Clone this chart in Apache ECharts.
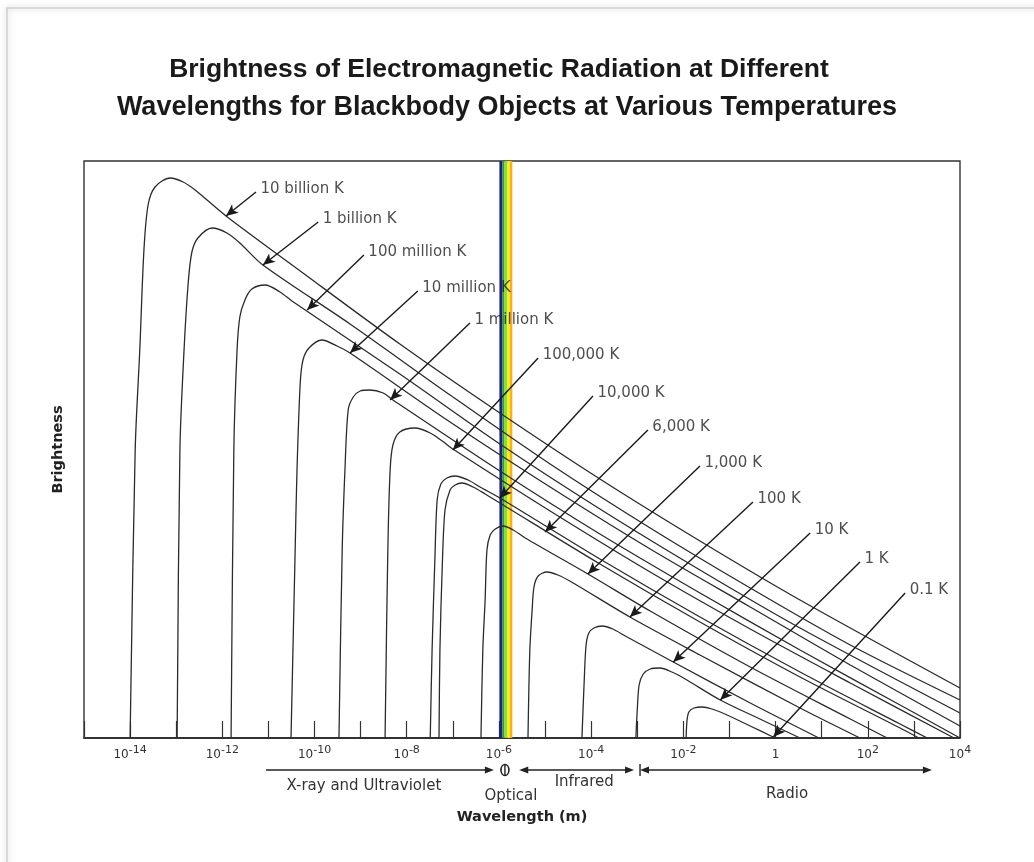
<!DOCTYPE html>
<html>
<head>
<meta charset="utf-8">
<script src="https://cdn.jsdelivr.net/npm/echarts@6/dist/echarts.min.js"></script>
<style>html,body{margin:0;padding:0;background:#fff;}#c{width:1034px;height:862px;}</style>
</head>
<body>
<div id="c"></div>
<script>
// x values: log10(wavelength in m); y values: relative brightness (arbitrary units)
const curveNames = ['10 billion K','1 billion K','100 million K','10 million K','1 million K','100,000 K','10,000 K','6,000 K','1,000 K','100 K','10 K','1 K','0.1 K'];

const c10billion = [[-14.00,0],[-13.89,28.8],[-13.79,38.8],[-13.70,48.8],[-13.61,53.3],[-13.46,55.1],[-13.13,56.0],[-12.85,55.6],[-12.59,54.8],[-11.92,52.2],[-10.31,46.7],[-8.15,39.4],[-5.98,32.5],[-3.81,25.9],[-1.64,19.7],[0.53,13.8],[4.00,5.0]];
const c1billion = [[-12.98,0],[-12.92,28.8],[-12.83,38.8],[-12.74,45.5],[-12.66,48.6],[-12.53,50.0],[-12.22,51.0],[-11.90,50.5],[-11.62,49.5],[-11.12,47.3],[-9.23,41.4],[-7.06,34.3],[-4.89,27.4],[-2.72,21.0],[-0.55,15.0],[1.62,9.3],[4.00,3.8]];
const c100million = [[-11.81,0],[-11.75,28.8],[-11.68,38.8],[-11.62,42.1],[-11.51,43.8],[-11.36,44.9],[-11.07,45.3],[-10.75,44.6],[-10.49,43.7],[-8.15,36.4],[-5.98,29.4],[-3.81,22.9],[-1.64,16.8],[0.53,11.0],[4.00,2.5]];
const c10million = [[-10.51,0],[-10.42,18.8],[-10.38,26.8],[-10.31,35.5],[-10.25,37.8],[-10.12,39.0],[-9.84,39.8],[-9.51,39.2],[-9.23,38.5],[-7.06,31.6],[-4.89,25.1],[-2.72,18.9],[-0.55,13.1],[1.62,7.3],[4.00,1.2]];
const c1million = [[-9.47,0],[-9.40,18.8],[-9.34,26.8],[-9.27,32.8],[-9.16,34.1],[-9.01,34.7],[-8.80,34.8],[-8.51,34.5],[-8.30,33.8],[-5.98,26.7],[-3.81,20.4],[-1.64,14.5],[0.53,8.8],[2.70,3.3],[4.00,0]];
const c100000 = [[-8.47,0],[-8.41,18.8],[-8.36,26.8],[-8.30,29.3],[-8.15,30.6],[-7.82,31.0],[-7.49,30.5],[-7.23,29.7],[-7.00,28.9],[-4.89,22.7],[-2.72,16.6],[-0.55,10.9],[1.62,5.5],[3.87,0]];
const c10000 = [[-7.49,0],[-7.45,8.8],[-7.39,17.8],[-7.34,23.8],[-7.26,25.4],[-7.13,26.0],[-6.95,26.2],[-6.67,25.8],[-6.41,25.1],[-5.98,24.0],[-3.81,17.9],[-1.64,12.1],[0.53,6.6],[2.70,1.4],[3.29,0]];
const c6000 = [[-7.30,0],[-7.28,8.8],[-7.23,17.1],[-7.17,22.8],[-7.06,24.8],[-6.95,25.3],[-6.80,25.5],[-6.56,25.1],[-6.30,24.4],[-5.98,23.5],[-3.81,17.4],[-1.64,11.6],[0.53,6.1],[2.70,1.0],[3.11,0]];
const c1000 = [[-6.39,0],[-6.35,8.8],[-6.30,13.8],[-6.26,18.8],[-6.19,20.3],[-6.08,20.9],[-5.91,21.2],[-5.69,20.8],[-5.43,20.0],[-4.07,16.4],[-2.72,12.7],[-0.55,7.1],[1.62,1.9],[2.42,0]];
const c100 = [[-5.37,0],[-5.33,8.8],[-5.28,12.8],[-5.24,15.1],[-5.15,16.2],[-4.96,16.6],[-4.72,16.3],[-4.39,15.5],[-3.16,12.1],[-1.64,8.3],[0.53,3.0],[1.83,0]];
const c10 = [[-4.20,0],[-4.15,5.8],[-4.11,9.3],[-4.05,10.5],[-3.94,11.0],[-3.76,11.2],[-3.53,10.9],[-3.26,10.2],[-2.22,7.6],[-0.55,3.5],[0.94,0]];
const c1 = [[-3.03,0],[-3.00,2.8],[-2.96,5.3],[-2.87,6.4],[-2.72,6.9],[-2.51,7.0],[-2.25,6.6],[-1.96,5.9],[-1.20,3.8],[-0.34,1.9],[0.53,0]];
const c01 = [[-1.94,0],[-1.92,1.8],[-1.88,2.6],[-1.77,3.0],[-1.59,3.1],[-1.38,2.9],[-1.10,2.4],[-0.55,1.2],[-0.01,0]];

// label arrows: start (near the text) and tip (on the curve)
const arrowStart = [[-11.27,54.6],[-9.92,51.6],[-8.93,48.3],[-7.76,44.7],[-6.63,41.5],[-5.15,38.0],[-3.96,34.2],[-2.77,30.8],[-1.64,27.2],[-0.49,23.6],[0.75,20.5],[1.83,17.6],[2.81,14.5]];
const arrowTip = [[-11.92,52.2],[-11.12,47.3],[-10.16,42.8],[-9.23,38.5],[-8.36,33.8],[-7.00,28.8],[-5.98,24.0],[-5.00,20.6],[-4.07,16.4],[-3.16,12.1],[-2.22,7.6],[-1.20,3.8],[-0.05,0.1]];

// tick labels: exponents shown
const tickExponents = [-14,-12,-10,-8,-6,-4,-2,0,2,4];

// visible band (colour stripes)
const opticalStripes = [[-5.99,-5.93],[-5.93,-5.88],[-5.88,-5.82],[-5.82,-5.76],[-5.76,-5.71]];

// spectral regions below the axis
const regionNames = ['X-ray and Ultraviolet','Optical','Infrared','Radio'];
const regionFrom = [-11.05, -5.87, -5.56, -2.94];
const regionTo = [-6.11, -5.87, -3.07, 3.39];
const regionLabelAt = [-8.93, -5.74, -4.15, 0.25];

const curves = [c10billion,c1billion,c100million,c10million,c1million,c100000,c10000,c6000,c1000,c100,c10,c1,c01];
const stripeColors = ['#1e1e8c','#2e9e3a','#8fdc2a','#f2ee1a','#ffab1f'];

const chart = echarts.init(document.getElementById('c'));
const FONT = 'DejaVu Sans';

const series = [];
series.push({
  type:'line', data:[], silent:true, z:1, animation:false,
  markArea:{silent:true, animation:false,
    data: opticalStripes.map((s,i)=>[{xAxis:s[0], itemStyle:{color:stripeColors[i], opacity:1}},{xAxis:s[1]}])}
});
curves.forEach((d,i)=>{
  series.push({
    type:'line', name:curveNames[i], data:d, smooth:0.3, symbol:'none',
    lineStyle:{color:'#2b2b2b', width:1.3}, z:3, silent:true, animation:false,
    markLine:{silent:true, animation:false, symbol:['none','arrow'], symbolSize:[8,12],
      lineStyle:{color:'#1a1a1a', width:1.4, type:'solid'}, label:{show:false},
      data:[[{coord:arrowStart[i]},{coord:arrowTip[i]}]]}
  });
});
series.push({
  type:'scatter', silent:true, z:5, animation:false, symbol:'circle', symbolSize:1,
  itemStyle:{color:'rgba(0,0,0,0)'},
  data: arrowStart.map((p,i)=>({value:p, name:curveNames[i]})),
  label:{show:true, position:'right', distance:4, offset:[0,-3], formatter:'{b}',
    fontFamily:FONT, fontSize:15, color:'#222'}
});

const titleStyle = {fontFamily:'Liberation Sans', fontWeight:'bold', fontSize:27, color:'#1a1a1a'};
const option = {
  animation:false,
  backgroundColor:'#fff',
  title:[
    {text:'Brightness of Electromagnetic Radiation at Different', left:494, top:51, textAlign:'center',
     textStyle:Object.assign({}, titleStyle, {fontSize:26.5})},
    {text:'Wavelengths for Blackbody Objects at Various Temperatures', left:502, top:89, textAlign:'center',
     textStyle:titleStyle}
  ],
  grid:{left:84, right:74, top:161, bottom:124, show:true, borderColor:'#333', borderWidth:1.4, backgroundColor:'rgba(0,0,0,0)'},
  xAxis:{
    type:'value', min:-15, max:4, interval:1,
    name:'Wavelength (m)', nameLocation:'middle', nameGap:72,
    nameTextStyle:{fontFamily:FONT, fontWeight:'bold', fontSize:14.5, color:'#222'},
    axisLine:{show:true, lineStyle:{color:'#222', width:1.5}},
    axisTick:{show:true, inside:true, length:17, lineStyle:{color:'#333', width:1.2}},
    splitLine:{show:false},
    axisLabel:{
      margin:7, showMinLabel:true, showMaxLabel:true,
      formatter:function(v){
        if (tickExponents.indexOf(v) < 0) return '';
        if (v === 0) return '{b|1}';
        return '{b|10}{s|' + v + '}';
      },
      rich:{
        b:{fontFamily:FONT, fontSize:12, color:'#333', lineHeight:16, verticalAlign:'bottom'},
        s:{fontFamily:FONT, fontSize:11, color:'#333', lineHeight:16, verticalAlign:'top'}
      }
    }
  },
  yAxis:{
    type:'value', min:0, max:57.7,
    name:'Brightness', nameLocation:'middle', nameGap:18,
    nameTextStyle:{fontFamily:FONT, fontWeight:'bold', fontSize:14.5, color:'#222'},
    axisLine:{show:false}, axisTick:{show:false}, axisLabel:{show:false}, splitLine:{show:false}
  },
  series: series
};
chart.setOption(option);

// annotations below the axis, positioned through the x axis scale
const px = e => chart.convertToPixel({xAxisIndex:0}, e);
const AY = 770;
const g = [];
function tri(x, y, dir){ // dir 1 -> pointing right, -1 -> pointing left
  return {type:'polygon', shape:{points:[[x,y],[x-dir*9,y-3.5],[x-dir*9,y+3.5]]}, style:{fill:'#222'}, silent:true};
}
function seg(x1,x2,y){ return {type:'line', shape:{x1:x1,y1:y,x2:x2,y2:y}, style:{stroke:'#222', lineWidth:1.4}, silent:true}; }
function txt(x,y,s){ return {type:'text', x:x, y:y, style:{text:s, fill:'#333', font:'15px "DejaVu Sans"', align:'center', verticalAlign:'middle'}, silent:true}; }
// X-ray and UV
let a = px(regionFrom[0]), b = px(regionTo[0]);
g.push(seg(a,b-4,AY), tri(b,AY,1), txt(px(regionLabelAt[0]),786,regionNames[0]));
// Optical marker
let o = px(regionFrom[1]);
g.push({type:'ellipse', shape:{cx:o, cy:AY, rx:4, ry:5.5}, style:{fill:'none', stroke:'#222', lineWidth:1.6}, silent:true});
g.push({type:'line', shape:{x1:o,y1:AY-6,x2:o,y2:AY+6}, style:{stroke:'#222', lineWidth:1.4}, silent:true});
g.push(txt(px(regionLabelAt[1]),796,regionNames[1]));
// Infrared
a = px(regionFrom[2]); b = px(regionTo[2]);
g.push(seg(a+4,b-4,AY), tri(a,AY,-1), tri(b,AY,1), txt(px(regionLabelAt[2]),782,regionNames[2]));
// Radio
a = px(regionFrom[3]); b = px(regionTo[3]);
g.push(seg(a+4,b-4,AY), tri(a,AY,-1), tri(b,AY,1), txt(px(regionLabelAt[3]),794,regionNames[3]));
g.push({type:'line', shape:{x1:a,y1:AY-6,x2:a,y2:AY+6}, style:{stroke:'#222', lineWidth:1.4}, silent:true});
// page frame with soft shadow
g.push({type:'rect', shape:{x:7,y:8,width:1040,height:870}, style:{fill:'none', stroke:'#cfcfcf', lineWidth:1.5, shadowBlur:6, shadowColor:'rgba(0,0,0,0.25)'}, silent:true, z:-10});
chart.setOption({graphic:g});
</script>
</body>
</html>
